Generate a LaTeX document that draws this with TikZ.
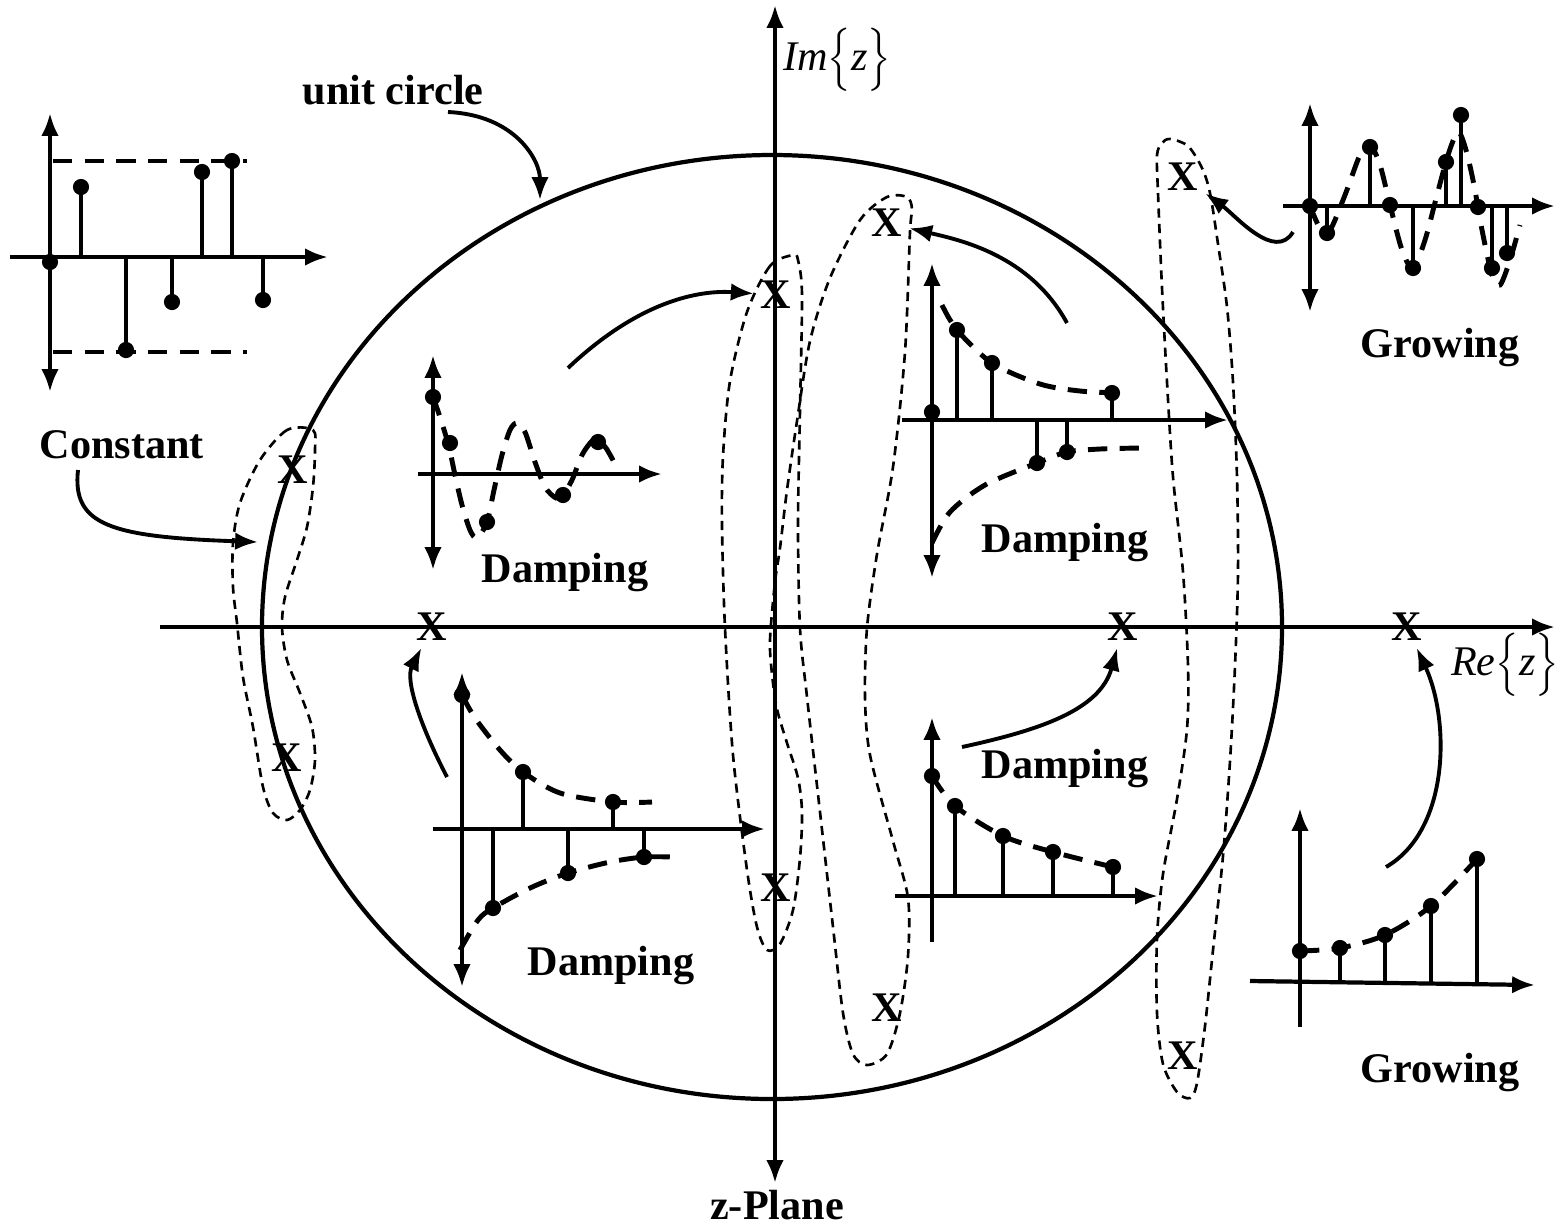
\documentclass[tikz,border=0pt]{standalone}
\usepackage{fontspec}
\setmainfont{Liberation Serif}
\usetikzlibrary{arrows.meta}

\begin{document}
\begin{tikzpicture}[x=0.01cm, y=-0.01cm, >={Latex[length=6.5pt,width=5pt]}, line width=1.1pt,
    lbl/.style={font=\bfseries\fontsize{12}{14}\selectfont, inner sep=0pt},
    pole/.style={font=\bfseries\fontsize{12}{14}\selectfont, inner sep=1pt, outer sep=1pt},
    axis/.style={line width=1.2pt},
    stem/.style={line width=1.4pt},
    env/.style={line width=1.4pt, dash pattern=on 5.5pt off 3.5pt},
    loop/.style={line width=0.75pt, dash pattern=on 2.6pt off 1.8pt},
    dot/.style={radius=2.3pt}]
    \useasboundingbox (0,0) rectangle (1560,1226);

    % z-plane axes and unit circle
    \draw[axis,->] (160,627) -- (1555,627);
    \draw[axis,<->] (775,1183) -- (775,5);
    \draw[line width=1.2pt] (772,627) ellipse[x radius=510, y radius=472];

    \node[font=\fontsize{12}{14}\selectfont, inner sep=0pt] (imlbl) at (837,60) {\textit{Im}$\Bigl\{$\textit{z}$\Bigr\}$};
    \node[font=\fontsize{12}{14}\selectfont, inner sep=0pt] (relbl) at (1505,665) {\textit{Re}$\Bigl\{$\textit{z}$\Bigr\}$};
    \node[lbl] (planelbl) at (777,1205) {z-Plane};
    \node[lbl] (unitlbl) at (393,90) {unit circle};

    % poles
    \node[pole] (pL1) at (293,470) {X};
    \node[pole] (pL2) at (287,758) {X};
    \node[pole] (pRe1) at (432,627) {X};
    \node[pole] (pIm1) at (776,295) {X};
    \node[pole] (pIm2) at (776,888) {X};
    \node[pole] (pB1) at (887,223) {X};
    \node[pole] (pB2) at (887,1008) {X};
    \node[pole] (pRe2) at (1123,627) {X};
    \node[pole] (pRe3) at (1407,627) {X};
    \node[pole] (pR1) at (1183,177) {X};
    \node[pole] (pR2) at (1183,1056) {X};

    % dashed groupings of conjugate poles
    \draw[loop] plot[smooth cycle] coordinates {(313,430) (287,430) (260,460) (240,503) (233,543) (233,587)
        (237,623) (243,677) (253,727) (263,787) (273,813) (287,820) (300,810) (310,790) (315,760)
        (312,727) (300,693) (287,660) (282,627) (285,597) (297,560) (307,527) (313,487) (315,450)};
    \draw[loop] plot[smooth cycle] coordinates {(793,255) (770,266) (747,312) (730,381) (723,456) (722,525)
        (725,628) (733,755) (747,870) (757,927) (767,950) (780,944) (793,910) (800,858) (802,812)
        (798,778) (787,743) (777,709) (772,674) (770,640) (775,582) (780,548) (787,490) (797,421)
        (810,341) (830,278) (860,220) (887,197) (907,197) (912,209) (910,232) (905,352) (893,467)
        (877,554) (867,628) (865,697) (870,755) (893,841) (908,898) (908,956) (900,1013) (887,1054)
        (867,1065) (853,1054) (843,1013) (833,927) (820,812) (807,697) (800,628) (798,525) (800,410)
        (802,295) (798,260)};
    \draw[loop] plot[smooth cycle] coordinates {(1157,155) (1158,193) (1162,288) (1167,382) (1173,477)
        (1183,572) (1188,666) (1187,729) (1177,799) (1163,874) (1157,938) (1157,1013) (1163,1064)
        (1177,1092) (1190,1098) (1197,1083) (1205,1026) (1213,950) (1223,856) (1230,761) (1235,666)
        (1238,572) (1237,477) (1233,382) (1227,307) (1218,244) (1210,193) (1202,168) (1188,146)
        (1170,139) (1162,143)};

    % constant
    \draw[axis,<->] (50,113) -- (50,392);
    \draw[axis,->] (10,257) -- (328,257);
    \draw[env] (53,161) -- (247,161);
    \draw[env] (53,352) -- (247,352);
    \foreach \x/\y in {50/262, 81/187, 126/350, 172/302, 202/172, 232/161, 263/300} {
        \draw[stem] (\x,257) -- (\x,\y);
        \fill (\x,\y) circle[dot];
    }
    \node[lbl] (constlbl) at (122,445) {Constant};

    % damped oscillation
    \draw[axis,<->] (433,355) -- (433,570);
    \draw[axis,->] (418,474) -- (662,474);
    \draw[env] plot[smooth] coordinates {(433,397) (441,420) (449,447) (455,475) (462,505) (470,530)
        (477,538) (487,522) (494,490) (502,455) (510,430) (517,423) (525,432) (535,462) (545,487)
        (556,498) (563,495) (572,480) (582,455) (592,441) (598,440) (606,448) (614,462)};
    \foreach \x/\y in {433/397, 450/443, 487/522, 563/495, 598/442}
        \fill (\x,\y) circle[dot];
    \node[lbl] (damp1) at (565,572) {Damping};

    % alternating damping, top right
    \draw[axis,<->] (932,263) -- (932,578);
    \draw[axis,->] (902,420) -- (1228,420);
    \draw[env] plot[smooth] coordinates {(942,305) (957,330) (992,363) (1040,384) (1080,391) (1120,393)};
    \draw[env] plot[smooth] coordinates {(932,543) (950,512) (985,485) (1037,463) (1067,452) (1100,449) (1140,448)};
    \foreach \x/\y in {932/412, 957/330, 992/363, 1037/463, 1067/452, 1112/393} {
        \draw[stem] (\x,420) -- (\x,\y);
        \fill (\x,\y) circle[dot];
    }
    \node[lbl] (damp2) at (1065,542) {Damping};

    % alternating damping, bottom left
    \draw[axis,<->] (462,672) -- (462,987);
    \draw[axis,->] (433,829) -- (765,829);
    \draw[env] plot[smooth] coordinates {(462,695) (475,718) (500,750) (523,772) (560,793) (613,802) (652,802)};
    \draw[env] plot[smooth] coordinates {(460,950) (478,920) (493,908) (530,888) (568,873) (610,862) (644,857) (672,857)};
    \foreach \x/\y in {462/695, 493/908, 523/772, 568/873, 613/802, 644/857} {
        \draw[stem] (\x,829) -- (\x,\y);
        \fill (\x,\y) circle[dot];
    }
    \node[lbl] (damp3) at (611,965) {Damping};

    % damping, bottom right
    \draw[axis,->] (932,942) -- (932,717);
    \draw[axis,->] (895,896) -- (1158,896);
    \draw[env] plot[smooth] coordinates {(932,776) (955,806) (1003,836) (1053,852) (1113,867)};
    \foreach \x/\y in {932/776, 955/806, 1003/836, 1053/852, 1113/867} {
        \draw[stem] (\x,896) -- (\x,\y);
        \fill (\x,\y) circle[dot];
    }
    \node[lbl] (damp4) at (1065,768) {Damping};

    % growing, bottom right
    \draw[axis,->] (1300,1027) -- (1300,808);
    \draw[axis,->] (1250,981) -- (1535,985);
    \draw[env] plot[smooth] coordinates {(1300,951) (1340,948) (1385,935) (1431,906) (1477,859)};
    \foreach \x/\y in {1300/951, 1340/948, 1385/935, 1431/906, 1477/859} {
        \draw[stem] (\x,983) -- (\x,\y);
        \fill (\x,\y) circle[dot];
    }
    \node[lbl] (grow2) at (1440,1072) {Growing};

    % growing oscillation, top right
    \draw[axis,<->] (1310,103) -- (1310,312);
    \draw[axis,->] (1283,206) -- (1555,206);
    \draw[env] plot[smooth] coordinates {(1310,206) (1320,228) (1330,230) (1345,195) (1360,155) (1370,145)
        (1380,165) (1390,205) (1402,250) (1413,268) (1425,240) (1437,195) (1448,155) (1458,132)
        (1466,150) (1474,185) (1482,230) (1492,275) (1500,285) (1510,260) (1520,225)};
    \foreach \x/\y in {1310/206, 1327/233, 1370/147, 1390/205, 1413/268, 1446/162, 1461/115, 1478/207, 1492/268, 1507/253} {
        \draw[stem] (\x,206) -- (\x,\y);
        \fill (\x,\y) circle[dot];
    }
    \node[lbl] (grow1) at (1440,347) {Growing};

    % pointers
    \coordinate (uc0) at (448,112);
    \coordinate (uc1) at (540,200);
    \draw[->] (uc0) .. controls (515,115) and (540,160) .. (uc1);
    \coordinate (cn0) at (78,470);
    \coordinate (cn1) at (258,542);
    \draw[->] (cn0) .. controls (72,525) and (110,537) .. (cn1);
    \coordinate (d1) at (568,368);
    \draw[->] (d1) .. controls (640,300) and (700,290) .. (pIm1);
    \coordinate (d2) at (1067,323);
    \draw[->] (d2) .. controls (1030,255) and (960,240) .. (pB1);
    \coordinate (d3) at (447,777);
    \draw[->] (d3) .. controls (420,725) and (405,680) .. (pRe1);
    \coordinate (d4) at (962,747);
    \draw[->] (d4) .. controls (1040,730) and (1100,710) .. (pRe2);
    \coordinate (g1) at (1293,232);
    \draw[->] (g1) .. controls (1275,262) and (1235,215) .. (pR1);
    \coordinate (g2) at (1386,867);
    \draw[->] (g2) .. controls (1450,830) and (1450,720) .. (pRe3);
\end{tikzpicture}
\end{document}
